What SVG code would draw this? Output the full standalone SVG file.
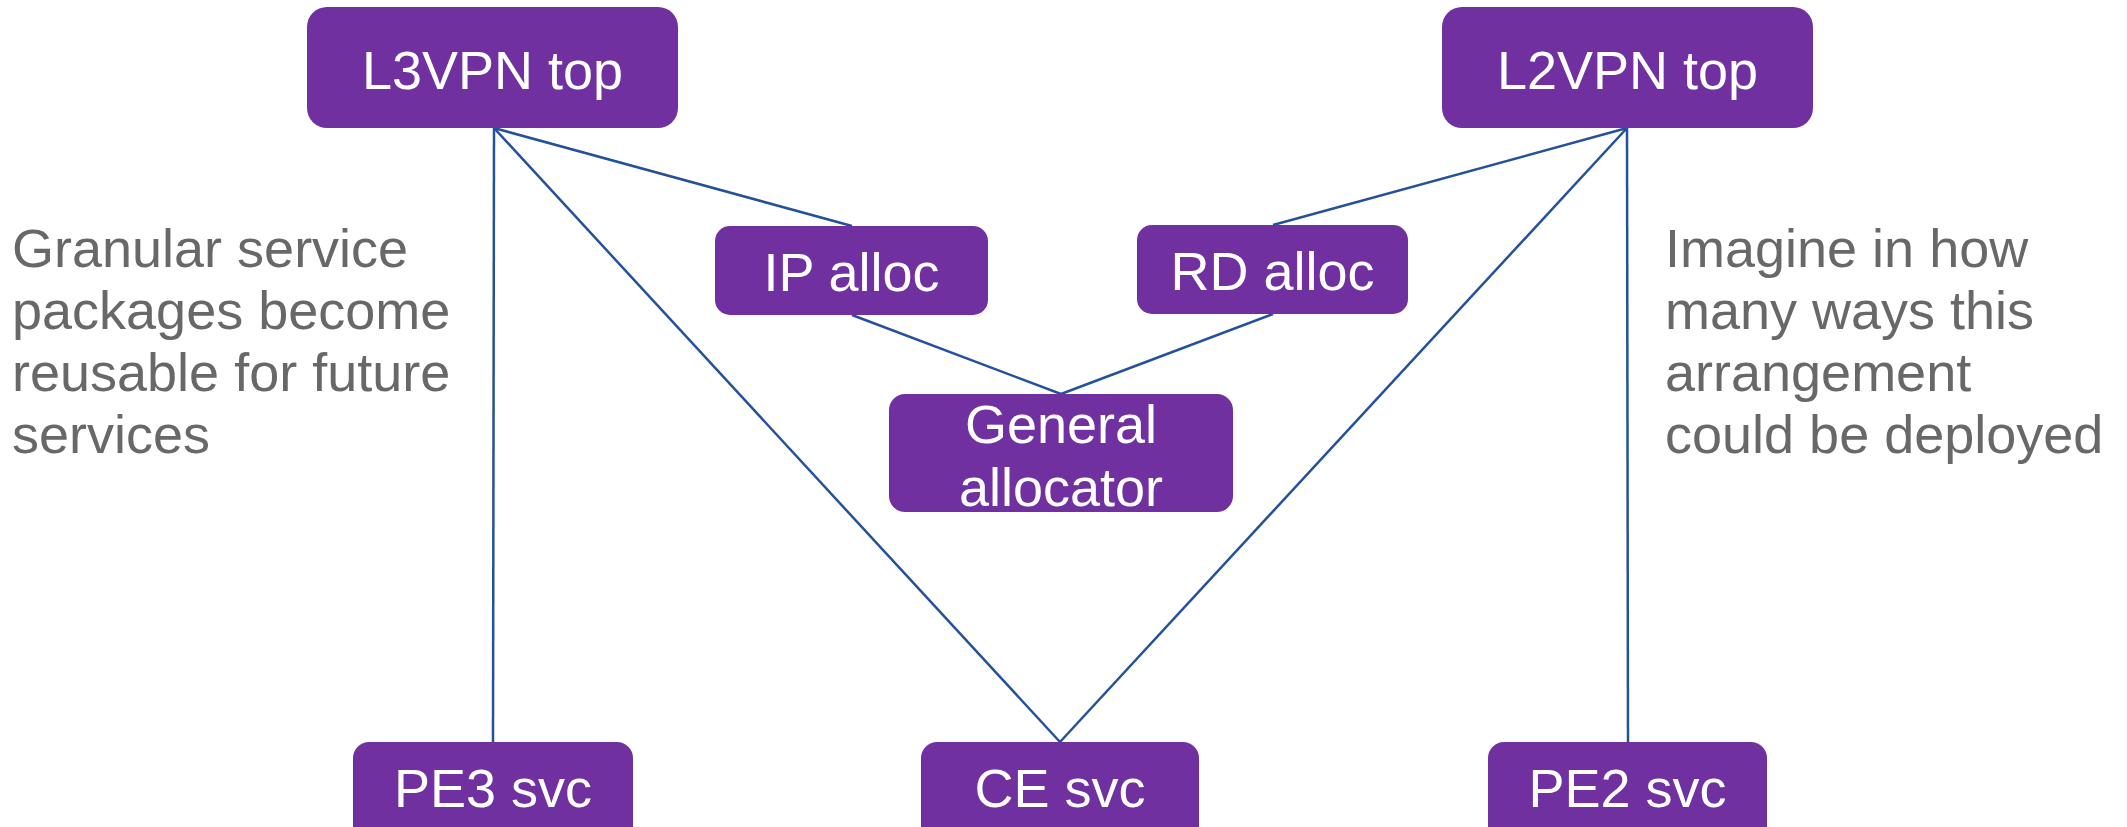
<svg xmlns="http://www.w3.org/2000/svg" width="2127" height="827" viewBox="0 0 2127 827">
<style>
.box{fill:#7030A0;}
.lbl{font-family:"Liberation Sans",Arial,sans-serif;font-size:54px;fill:#FFFFFF;text-anchor:middle;}
.note{font-family:"Liberation Sans",Arial,sans-serif;font-size:54px;fill:#686868;}
.conn line{stroke:#23519A;stroke-width:2.5;fill:none;}
</style>
<rect x="0" y="0" width="2127" height="827" fill="#FFFFFF"/>
<g id="connectors" class="conn">
<line x1="494" y1="128" x2="493" y2="742"/>
<line x1="494" y1="128" x2="1060" y2="742"/>
<line x1="494" y1="128" x2="852" y2="226"/>
<line x1="1627" y1="128" x2="1628" y2="742"/>
<line x1="1627" y1="128" x2="1060" y2="742"/>
<line x1="1627" y1="128" x2="1273" y2="225"/>
<line x1="852" y1="315" x2="1061" y2="394"/>
<line x1="1273" y1="314" x2="1061" y2="394"/>
</g>
<g id="l3vpn-top">
<rect class="box" x="307" y="7" width="371" height="121" rx="20"/>
<text class="lbl" x="492.5" y="89">L3VPN top</text>
</g>
<g id="l2vpn-top">
<rect class="box" x="1442" y="7" width="371" height="121" rx="20"/>
<text class="lbl" x="1627.5" y="89">L2VPN top</text>
</g>
<g id="ip-alloc">
<rect class="box" x="715" y="226" width="273" height="89" rx="15"/>
<text class="lbl" x="851.5" y="291">IP alloc</text>
</g>
<g id="rd-alloc">
<rect class="box" x="1137" y="225" width="271" height="89" rx="15"/>
<text class="lbl" x="1272.5" y="290">RD alloc</text>
</g>
<g id="general-allocator">
<rect class="box" x="889" y="394" width="344" height="118" rx="16"/>
<text class="lbl" x="1061" y="443">General</text>
<text class="lbl" x="1061" y="506">allocator</text>
</g>
<g id="pe3-svc">
<rect class="box" x="353" y="742" width="280" height="110" rx="16"/>
<text class="lbl" x="493" y="807">PE3 svc</text>
</g>
<g id="ce-svc">
<rect class="box" x="921" y="742" width="278" height="110" rx="16"/>
<text class="lbl" x="1060" y="807">CE svc</text>
</g>
<g id="pe2-svc">
<rect class="box" x="1488" y="742" width="279" height="110" rx="16"/>
<text class="lbl" x="1627.5" y="807">PE2 svc</text>
</g>
<g id="note-left">
<text class="note" x="12" y="267">Granular service</text>
<text class="note" x="12" y="329">packages become</text>
<text class="note" x="12" y="391">reusable for future</text>
<text class="note" x="12" y="453">services</text>
</g>
<g id="note-right">
<text class="note" x="1665" y="267">Imagine in how</text>
<text class="note" x="1665" y="329">many ways this</text>
<text class="note" x="1665" y="391">arrangement</text>
<text class="note" x="1665" y="453">could be deployed</text>
</g>
</svg>
